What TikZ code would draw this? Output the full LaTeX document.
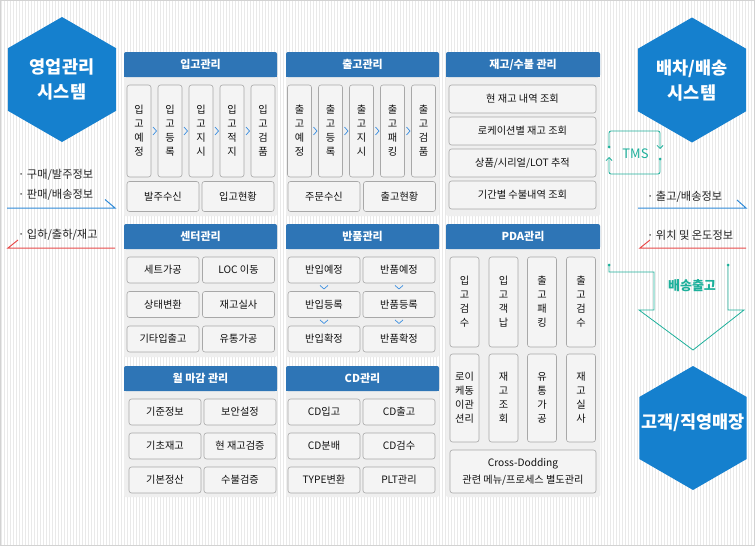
\documentclass[tikz,border=0pt]{standalone}
\usepackage{fontspec}
\setmainfont{Noto Sans CJK KR}
\usetikzlibrary{calc,arrows.meta}
\definecolor{hexblue}{HTML}{1580CE}
\definecolor{hdrblue}{HTML}{2E75B6}
\definecolor{panelbg}{HTML}{EFEFEF}
\definecolor{boxbg}{HTML}{F4F4F4}
\definecolor{boxline}{HTML}{A8A8A8}
\definecolor{tealc}{HTML}{1DB09B}
\definecolor{bluel}{HTML}{2F8AD8}
\definecolor{redl}{HTML}{E84A4A}
\definecolor{chevc}{HTML}{3A8EE0}
\definecolor{stripec}{HTML}{E9E9E9}
\definecolor{txt}{HTML}{111111}
\definecolor{sidetxtc}{HTML}{222222}
\newcommand{\mkpanel}[6]{%
  \fill[panelbg, rounded corners=2pt] (#1,#2) rectangle (#3,#4);
  \fill[hdrblue, rounded corners=2pt] (#1,#2) rectangle (#3,{#2+25});
  \fill[hdrblue] (#1,{#2+6}) rectangle (#3,{#2+25});
  \node[hdrtxt] (#6) at ({(#1+#3)/2},{#2+12.5}) {#5};
}
\newcommand{\chevr}[2]{\draw[chev] ($(#1.east)!0.5!(#2.west)$) ++(-1.5,-4) -- ++(3.5,4) -- ++(-3.5,4);}
\newcommand{\chevd}[2]{\draw[chev] ($(#1.south)!0.5!(#2.north)$) ++(-4,-1.8) -- ++(4,3.5) -- ++(4,-3.5);}
\tikzset{
  hdrtxt/.style={text=white, font=\bfseries\fontsize{11}{12}\selectfont, inner sep=0},
  bx/.style={draw=boxline, fill=boxbg, rounded corners=2.5pt, inner sep=0, align=center,
    font=\fontsize{10.2}{14}\selectfont, text=txt, line width=0.6pt},
  wbox/.style={bx, minimum width=72pt, minimum height=26pt},
  vbox/.style={bx, minimum width=24pt, minimum height=92pt},
  pbox/.style={bx, minimum width=29pt},
  chev/.style={draw=chevc, line width=0.7pt},
  hextxt/.style={text=white, font=\bfseries\fontsize{17.5}{25}\selectfont, align=center, inner sep=0},
  sidetxt/.style={anchor=west, text=sidetxtc, font=\fontsize{11.2}{12}\selectfont, inner sep=0},
  tealline/.style={draw=tealc, line width=0.8pt},
  barb/.style={-{Straight Barb[length=3pt,width=6pt]}},
}
\begin{document}
\begin{tikzpicture}[x=1pt,y=-1pt]
\useasboundingbox (0,0) rectangle (755,546);
\fill[white] (0,0) rectangle (755,546);
\foreach \i in {0,...,251} \draw[stripec, line width=1pt] ({\i*3+1.5},0) -- ({\i*3+1.5},546);
\draw[gray!35, line width=1pt] (0.5,0.5) rectangle (754.5,545.5);

% hexagons
\coordinate (hlc) at (62,79.5);
\fill[hexblue] ($(hlc)+(90:62.5)$) -- ($(hlc)+(30:62.5)$) -- ($(hlc)+(-30:62.5)$) -- ($(hlc)+(-90:62.5)$) -- ($(hlc)+(-150:62.5)$) -- ($(hlc)+(150:62.5)$) -- cycle;
\node[hextxt] (hlt) at (hlc) {영업관리\\시스템};
\coordinate (hrc) at (692,80);
\fill[hexblue] ($(hrc)+(90:62.5)$) -- ($(hrc)+(30:62.5)$) -- ($(hrc)+(-30:62.5)$) -- ($(hrc)+(-90:62.5)$) -- ($(hrc)+(-150:62.5)$) -- ($(hrc)+(150:62.5)$) -- cycle;
\node[hextxt] (hrt) at (hrc) {배차/배송\\시스템};
\coordinate (hbc) at (693,428);
\fill[hexblue] ($(hbc)+(90:62)$) -- ($(hbc)+(30:62)$) -- ($(hbc)+(-30:62)$) -- ($(hbc)+(-90:62)$) -- ($(hbc)+(-150:62)$) -- ($(hbc)+(150:62)$) -- cycle;
\node[hextxt] (hbt) at ($(hbc)+(0,-5)$) {고객/직영매장};

% left side
\node[sidetxt] (ls1) at (18,175) {· 구매/발주정보};
\node[sidetxt] (ls2) at (18,195) {· 판매/배송정보};
\node[sidetxt] (ls3) at (18,235) {· 입하/출하/재고};
\coordinate (lb1) at (7,208); \coordinate (lb2) at (115,208);
\draw[bluel, line width=1pt] (lb1) -- (lb2) -- ++(-10,-8.5);
\coordinate (lr1) at (8,248); \coordinate (lr2) at (115,248);
\draw[redl, line width=1pt] (lr2) -- (lr1) -- ++(10,-8);

% right side
\node[sidetxt] (rs1) at (647,197) {· 출고/배송정보};
\node[sidetxt] (rs2) at (647,235) {· 위치 및 온도정보};
\coordinate (rb1) at (638,208); \coordinate (rb2) at (746,208);
\draw[bluel, line width=1pt] (rb1) -- (rb2) -- ++(-9,-8);
\coordinate (rr1) at (640,248); \coordinate (rr2) at (746,248);
\draw[redl, line width=1pt] (rr2) -- (rr1) -- ++(10,-8);

% TMS
\node[text=tealc, font=\fontsize{13}{14}\selectfont, inner sep=0] (tms) at (635.5,154) {TMS};
\coordinate (tA) at (609,147); \coordinate (tAe) at (660,149);
\draw[tealline, barb, rounded corners=2pt] (tA) |- ($(tAe)+(0,-18)$) -- (tAe);
\fill[tealc] (tA) circle (1.5pt);
\coordinate (tB) at (660,159); \coordinate (tBe) at (609,157);
\draw[tealline, barb, rounded corners=2pt] (tB) |- ($(tBe)+(0,17)$) -- (tBe);
\fill[tealc] (tB) circle (1.5pt);

% delivery arrow
\coordinate (dA) at (609,265); \coordinate (dB) at (728,265); \coordinate (dT) at (693,350);
\draw[tealline] (dA) -- (609,272) -- (654,272) -- (654,310) -- (639,310) -- (dT) -- (744,310) -- (728,310) -- (dB);
\fill[tealc] (dA) circle (1.5pt);
\fill[tealc] (dB) circle (1.5pt);
\node[text=tealc, font=\bfseries\fontsize{13}{14}\selectfont, inner sep=0] (dtx) at (692,286) {배송출고};

% panels
\mkpanel{124}{52}{277}{216}{입고관리}{p1}
\mkpanel{286}{52}{439}{216}{출고관리}{p2}
\mkpanel{446}{52}{600}{216}{재고/수불 관리}{p3}
\mkpanel{124}{224}{277}{357}{센터관리}{p4}
\mkpanel{286}{224}{439}{357}{반품관리}{p5}
\mkpanel{446}{224}{600}{497}{PDA관리}{p6}
\mkpanel{124}{366}{277}{497}{월 마감 관리}{p7}
\mkpanel{286}{366}{439}{497}{CD관리}{p8}

% panel 1
\node[vbox] (a1) at (139,131) {입\\고\\예\\정};
\node[vbox] (a2) at (170,131) {입\\고\\등\\록};
\node[vbox] (a3) at (201,131) {입\\고\\지\\시};
\node[vbox] (a4) at (232,131) {입\\고\\적\\지};
\node[vbox] (a5) at (263,131) {입\\고\\검\\품};
\chevr{a1}{a2} \chevr{a2}{a3} \chevr{a3}{a4} \chevr{a4}{a5}
\node[wbox, minimum height=30pt] (a6) at (163,196.5) {발주수신};
\node[wbox, minimum height=30pt] (a7) at (238,196.5) {입고현황};

% panel 2
\node[vbox] (b1) at (299.5,131) {출\\고\\예\\정};
\node[vbox] (b2) at (330.5,131) {출\\고\\등\\록};
\node[vbox] (b3) at (361.5,131) {출\\고\\지\\시};
\node[vbox] (b4) at (392.5,131) {출\\고\\패\\킹};
\node[vbox] (b5) at (423.5,131) {출\\고\\검\\품};
\chevr{b1}{b2} \chevr{b2}{b3} \chevr{b3}{b4} \chevr{b4}{b5}
\node[wbox, minimum height=30pt] (b6) at (324,196.5) {주문수신};
\node[wbox, minimum height=30pt] (b7) at (399.5,196.5) {출고현황};

% panel 3
\node[bx, minimum width=147pt, minimum height=28pt] (c1) at (522.5,99) {현 재고 내역 조회};
\node[bx, minimum width=147pt, minimum height=28pt] (c2) at (522.5,131) {로케이션별 재고 조회};
\node[bx, minimum width=147pt, minimum height=28pt] (c3) at (522.5,163) {상품/시리얼/LOT 추적};
\node[bx, minimum width=147pt, minimum height=28pt] (c4) at (522.5,195) {기간별 수불내역 조회};

% panel 4
\node[wbox] (d1) at (163,270) {세트가공};
\node[wbox] (d2) at (238.5,270) {LOC 이동};
\node[wbox] (d3) at (163,304.5) {상태변환};
\node[wbox] (d4) at (238.5,304.5) {재고실사};
\node[wbox] (d5) at (163,339) {기타입출고};
\node[wbox] (d6) at (238.5,339) {유통가공};

% panel 5
\node[wbox] (e1) at (324,270) {반입예정};
\node[wbox] (e2) at (399,270) {반품예정};
\node[wbox] (e3) at (324,304.5) {반입등록};
\node[wbox] (e4) at (399,304.5) {반품등록};
\node[wbox] (e5) at (324,339) {반입확정};
\node[wbox] (e6) at (399,339) {반품확정};
\chevd{e1}{e3} \chevd{e3}{e5} \chevd{e2}{e4} \chevd{e4}{e6}

% panel 6 (PDA)
\node[pbox, minimum height=90pt] (f1) at (464.5,302) {입\\고\\검\\수};
\node[pbox, minimum height=90pt] (f2) at (503.5,302) {입\\고\\객\\납};
\node[pbox, minimum height=90pt] (f3) at (542,302) {출\\고\\패\\킹};
\node[pbox, minimum height=90pt] (f4) at (581,302) {출\\고\\검\\수};
\node[pbox, minimum height=88pt] (f5) at (464.5,398) {로이\\케동\\이관\\션리};
\node[pbox, minimum height=88pt] (f6) at (503.5,398) {재\\고\\조\\회};
\node[pbox, minimum height=88pt] (f7) at (542,398) {유\\통\\가\\공};
\node[pbox, minimum height=88pt] (f8) at (581,398) {재\\고\\실\\사};
\node[bx, minimum width=146pt, minimum height=43pt, font=\fontsize{10.2}{17}\selectfont] (f9) at (523,471.5) {Cross-Dodding\\관련 메뉴/프로세스 별도관리};

% panel 7
\node[wbox] (g1) at (165,412) {기준정보};
\node[wbox] (g2) at (240,412) {보안설정};
\node[wbox] (g3) at (165,446) {기초재고};
\node[wbox] (g4) at (240,446) {현 재고검증};
\node[wbox] (g5) at (165,480) {기본정산};
\node[wbox] (g6) at (240,480) {수불검증};

% panel 8
\node[wbox] (h1) at (324,412) {CD입고};
\node[wbox] (h2) at (399,412) {CD출고};
\node[wbox] (h3) at (324,446) {CD분배};
\node[wbox] (h4) at (399,446) {CD검수};
\node[wbox] (h5) at (324,480) {TYPE변환};
\node[wbox] (h6) at (399,480) {PLT관리};
\end{tikzpicture}
\end{document}
